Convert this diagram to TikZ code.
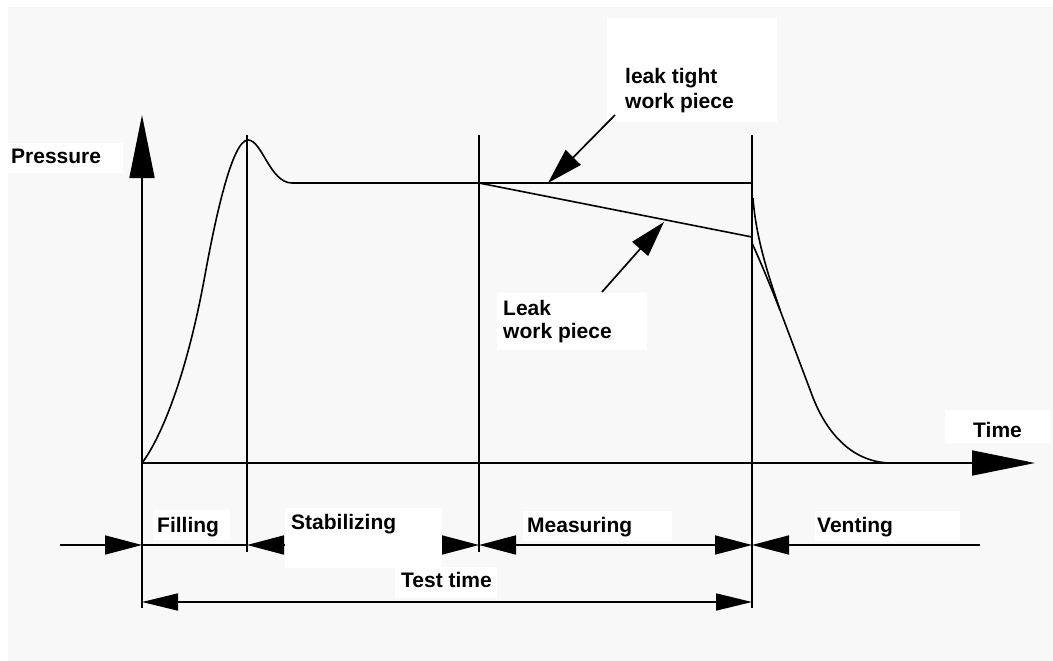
\documentclass[tikz,border=0pt]{standalone}
\usepackage{fontspec}
\setmainfont{Liberation Sans}
\usetikzlibrary{arrows.meta}
\definecolor{bgpaper}{RGB}{248,248,248}
\tikzset{
  Atip/.tip={Triangle[length=63pt,width=25pt]},
  Dtip/.tip={Triangle[length=37pt,width=19pt]},
  Ttip/.tip={Triangle[length=36pt,width=17pt]},
  Ltip/.tip={Triangle[length=36pt,width=21pt]},
}
\begin{document}
\begin{tikzpicture}[x=1pt,y=-1pt,
  ln/.style={line width=1.7pt, black},
  curve/.style={line width=1.6pt, black, line join=round},
  lbl/.style={font=\fontsize{21}{24}\selectfont\bfseries, inner sep=0pt, anchor=base west},
  whitebox/.style={fill=white}]
\useasboundingbox (0,0) rectangle (1053,661);
\fill[white] (0,0) rectangle (1053,661);
\fill[bgpaper] (8,7) rectangle (1053,661);

% label boxes
\fill[whitebox] (8,143) rectangle (123,173);
\fill[whitebox] (607,18) rectangle (777,122);
\fill[whitebox] (497,293) rectangle (647,350);
\fill[whitebox] (945,410) rectangle (1050,443);
\fill[whitebox] (153,510) rectangle (230,540);
\fill[whitebox] (523,511) rectangle (672,541);
\fill[whitebox] (815,511) rectangle (960,541);
\fill[whitebox] (395,567) rectangle (497,598);

% coordinates
\coordinate (O) at (142,463);
\coordinate (Ytop) at (142,115);
\coordinate (Ybot) at (142,608);
\coordinate (Xend) at (1035,463);
\coordinate (V1t) at (247,135);
\coordinate (V1b) at (247,552);
\coordinate (V2t) at (479,135);
\coordinate (V2b) at (479,552);
\coordinate (V3t) at (752,135);
\coordinate (V3b) at (752,608);
\coordinate (D0) at (60,545);
\coordinate (D1) at (142,545);
\coordinate (D2) at (247,545);
\coordinate (D3) at (479,545);
\coordinate (D4) at (752,545);
\coordinate (D5) at (980,545);
\coordinate (T1) at (142,602);
\coordinate (T2) at (752,602);
\coordinate (Pk) at (248,140);
\coordinate (P0) at (292,183);
\coordinate (P1) at (752,183);
\coordinate (L0) at (479,183);
\coordinate (L1) at (752,237);
\coordinate (A1s) at (615,115);
\coordinate (A1e) at (548,183);
\coordinate (A2s) at (602,292);
\coordinate (A2e) at (664,222);
\coordinate (M) at (780,310);
\coordinate (M2) at (812,395);
\coordinate (E) at (890,463);

% axes
\draw[ln] (Ybot) -- (O);
\draw[ln,-Atip] (O) -- (Ytop);
\draw[ln,-Atip] (O) -- (Xend);

% phase separators
\draw[ln] (V1t) -- (V1b);
\draw[ln] (V2t) -- (V2b);
\draw[ln] (V3t) -- (V3b);

% dimension lines
\draw[ln,-Dtip] (D0) -- (D1);
\draw[ln] (D1) -- (D2);
\draw[ln,Dtip-Dtip] (D2) -- (D3);
\draw[ln,Dtip-Dtip] (D3) -- (D4);
\draw[ln,Dtip-] (D4) -- (D5);
\draw[ln,Ttip-Ttip] (T1) -- (T2);

% pressure curve
\draw[curve] (O) .. controls (158,442) and (185,385) .. (205,275)
  .. controls (215,220) and (232,140) .. (Pk)
  .. controls (262,140) and (270,183) .. (P0) -- (P1);
\draw[curve] (L0) -- (L1);
% venting curves
\draw[curve] (753,198) .. controls (756,240) and (770,280) .. (M)
  -- (M2) .. controls (825,430) and (850,462) .. (E);
\draw[curve] (752,243) .. controls (762,265) and (772,290) .. (M);

% annotation arrows
\draw[ln,-Ltip] (A1s) -- (A1e);
\draw[ln,-Ltip] (A2s) -- (A2e);

% stabilizing box covers dimension line
\fill[whitebox] (285,508) rectangle (442,568);

% labels
\node[lbl] (pressure) at (11,163) {Pressure};
\node[lbl] (lt1) at (625,84) {leak tight};
\node[lbl] (lt2) at (625,108) {work piece};
\node[lbl] (lk1) at (503,315) {Leak};
\node[lbl] (lk2) at (503,338) {work piece};
\node[lbl] (time) at (973,437) {Time};
\node[lbl] (filling) at (157,532) {Filling};
\node[lbl] (stab) at (291,529) {Stabilizing};
\node[lbl] (meas) at (527,532) {Measuring};
\node[lbl] (vent) at (817,532) {Venting};
\node[lbl] (test) at (401,587) {Test time};
\end{tikzpicture}
\end{document}
